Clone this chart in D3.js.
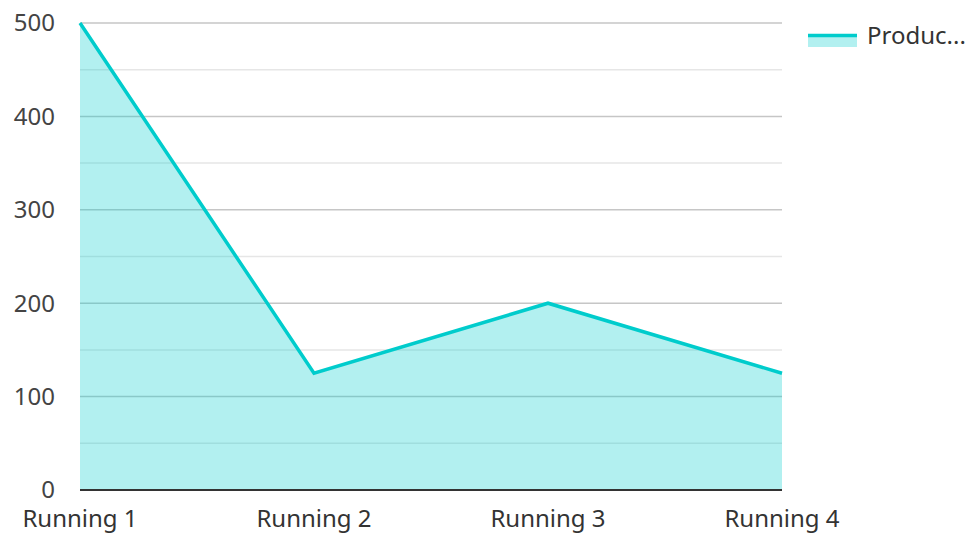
<!DOCTYPE html>
<html lang="en">
<head>
    <meta charset="UTF-8">
    <title>Area chart</title>
    <style>
        body { margin: 0; background: #fff; }
        text { font-family: "Noto Sans", "Open Sans", sans-serif; }
    </style>
</head>
<body>
<svg width="969" height="533"></svg>
<script src="https://d3js.org/d3.v7.min.js"></script>
<script>
    var categories = ["Running 1", "Running 2", "Running 3", "Running 4"]
    var values = [500, 125, 200, 125]
    var majorTicks = [0, 100, 200, 300, 400, 500]
    var minorTicks = [50, 150, 250, 350, 450]
    var seriesName = "Produc..."

    var svg = d3.select("svg")
    var plotLeft = 80, plotRight = 782, plotTop = 23, plotBottom = 490

    var x = d3.scalePoint().domain(categories).range([plotLeft, plotRight])
    var y = d3.scaleLinear().domain([0, 500]).range([plotBottom, plotTop])

    // gridlines
    svg.append("g").selectAll("line")
        .data(minorTicks)
        .enter().append("line")
        .attr("x1", plotLeft).attr("x2", plotRight)
        .attr("y1", d => y(d)).attr("y2", d => y(d))
        .style("stroke", "#e6e6e6")
        .style("stroke-width", 1.5)

    svg.append("g").selectAll("line")
        .data(majorTicks.filter(d => d > 0))
        .enter().append("line")
        .attr("x1", plotLeft).attr("x2", plotRight)
        .attr("y1", d => y(d)).attr("y2", d => y(d))
        .style("stroke", "#c6c6c6")
        .style("stroke-width", 1.5)

    var data = categories.map((c, i) => ({cat: c, v: values[i]}))

    var area = d3.area()
        .x(d => x(d.cat))
        .y0(y(0))
        .y1(d => y(d.v))

    var line = d3.line()
        .x(d => x(d.cat))
        .y(d => y(d.v))

    svg.append("path")
        .datum(data)
        .attr("d", area)
        .style("fill", "rgba(0, 204, 204, 0.3)")

    svg.append("path")
        .datum(data)
        .attr("d", line)
        .style("fill", "none")
        .style("stroke", "#00cccc")
        .style("stroke-width", 3.5)

    // baseline
    svg.append("line")
        .attr("x1", plotLeft).attr("x2", plotRight)
        .attr("y1", y(0)).attr("y2", y(0))
        .style("stroke", "#333")
        .style("stroke-width", 2)

    // y labels
    svg.append("g").selectAll("text")
        .data(majorTicks)
        .enter().append("text")
        .attr("x", 55)
        .attr("y", d => y(d))
        .attr("dy", "0.35em")
        .attr("text-anchor", "end")
        .style("font-size", "24px")
        .style("fill", "#444")
        .text(d => d)

    // x labels
    svg.append("g").selectAll("text")
        .data(categories)
        .enter().append("text")
        .attr("x", d => x(d))
        .attr("y", 527)
        .attr("text-anchor", "middle")
        .style("font-size", "24px")
        .style("fill", "#333")
        .text(d => d)

    // legend
    var lg = svg.append("g").attr("transform", "translate(808,34)")
    lg.append("rect")
        .attr("x", 0).attr("y", 0)
        .attr("width", 49).attr("height", 13)
        .style("fill", "rgba(0, 204, 204, 0.3)")
    lg.append("line")
        .attr("x1", 0).attr("x2", 49)
        .attr("y1", 1.5).attr("y2", 1.5)
        .style("stroke", "#00cccc")
        .style("stroke-width", 3.5)
    lg.append("text")
        .attr("x", 59)
        .attr("y", 2)
        .attr("dy", "0.35em")
        .style("font-size", "24px")
        .style("fill", "#333")
        .text(seriesName)
</script>
</body>
</html>
